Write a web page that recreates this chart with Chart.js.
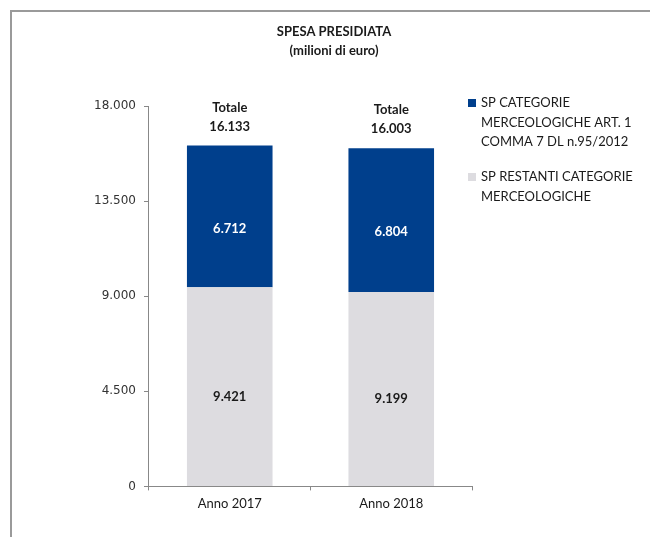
<!DOCTYPE html>
<html>
<head>
<meta charset="utf-8">
<script src="https://cdn.jsdelivr.net/npm/chart.js@4/dist/chart.umd.min.js"></script>
<style>
  html, body { margin: 0; padding: 0; background: #fff; }
  #wrap { width: 650px; height: 537px; position: relative; }
</style>
</head>
<body>
<div id="wrap"><canvas id="myChart" width="650" height="537"></canvas></div>
<script>
// chart data
const categories = ["Anno 2017", "Anno 2018"];
const restanti = [9421, 9199];
const art1 = [6712, 6804];
const totals = [16133, 16003];
const titleLines = ["SPESA PRESIDIATA", "(milioni di euro)"];
const legendArt1 = ["SP CATEGORIE", "MERCEOLOGICHE ART. 1", "COMMA 7 DL n.95/2012"];
const legendRestanti = ["SP RESTANTI CATEGORIE", "MERCEOLOGICHE"];

const BLUE = "#003f8c";
const GREY = "#dddce0";
const TEXT = "#1a1a1a";

//format numbers the italian way: 16133 => 16.133
function fmt(n) {
  return String(n).replace(/\B(?=(\d{3})+(?!\d))/g, ".");
}

//frame, title, legend and value labels
const extras = {
  id: "extras",
  beforeDraw(chart) {
    let ctx = chart.ctx;
    ctx.save();
    ctx.strokeStyle = "#9a9a9a";
    ctx.lineWidth = 2;
    ctx.beginPath();
    ctx.moveTo(11, 537);
    ctx.lineTo(11, 11);
    ctx.lineTo(650, 11);
    ctx.stroke();
    ctx.restore();
  },
  afterDatasetsDraw(chart) {
    let ctx = chart.ctx;
    ctx.save();
    ctx.textAlign = "center";
    ctx.textBaseline = "middle";

    //title
    ctx.fillStyle = TEXT;
    ctx.font = "bold 13px Lato";
    ctx.fillText(titleLines[0], 334, 32);
    ctx.fillText(titleLines[1], 334, 51);

    //segment labels
    let metaGrey = chart.getDatasetMeta(0);
    let metaBlue = chart.getDatasetMeta(1);
    ctx.font = "bold 13px Lato";
    metaGrey.data.forEach((bar, i) => {
      ctx.fillStyle = TEXT;
      ctx.fillText(fmt(restanti[i]), bar.x, (bar.y + bar.base) / 2 + 10);
    });
    metaBlue.data.forEach((bar, i) => {
      ctx.fillStyle = "#ffffff";
      ctx.fillText(fmt(art1[i]), bar.x, (bar.y + bar.base) / 2 + 12);
      //totals above the stack
      ctx.fillStyle = TEXT;
      ctx.fillText("Totale", bar.x, bar.y - 38);
      ctx.fillText(fmt(totals[i]), bar.x, bar.y - 19);
    });

    //legend
    ctx.textAlign = "left";
    ctx.font = "13px Lato";
    let entries = [
      { color: BLUE, lines: legendArt1, y: 103 },
      { color: GREY, lines: legendRestanti, y: 177 }
    ];
    for (let e of entries) {
      ctx.fillStyle = e.color;
      ctx.fillRect(468, e.y - 4, 8, 8);
      ctx.fillStyle = TEXT;
      e.lines.forEach((line, k) => {
        ctx.fillText(line, 481, e.y + k * 19.5);
      });
    }
    ctx.restore();
  }
};

let ctx = document.getElementById("myChart").getContext("2d");
let chart = new Chart(ctx, {
  type: "bar",
  data: {
    labels: categories,
    datasets: [
      {
        label: legendRestanti.join(" "),
        data: restanti,
        backgroundColor: GREY,
        categoryPercentage: 1,
        barPercentage: 0.53
      },
      {
        label: legendArt1.join(" "),
        data: art1,
        backgroundColor: BLUE,
        categoryPercentage: 1,
        barPercentage: 0.53
      }
    ]
  },
  options: {
    responsive: false,
    animation: false,
    layout: { padding: { left: 86, right: 178, top: 106, bottom: 19 } },
    plugins: {
      legend: { display: false },
      tooltip: { enabled: false }
    },
    scales: {
      x: {
        stacked: true,
        grid: {
          offset: true,
          drawOnChartArea: false,
          color: "#888",
          tickLength: 4
        },
        border: { color: "#888" },
        ticks: {
          color: TEXT,
          font: { family: "Lato", size: 13 },
          padding: 6
        }
      },
      y: {
        stacked: true,
        min: 0,
        max: 18000,
        grid: {
          drawOnChartArea: false,
          color: "#888",
          tickLength: 5
        },
        border: { color: "#888" },
        ticks: {
          stepSize: 4500,
          color: "#333",
          font: { family: "DejaVu Sans", size: 12 },
          padding: 8,
          callback: v => fmt(v)
        }
      }
    }
  },
  plugins: [extras]
});
</script>
</body>
</html>
